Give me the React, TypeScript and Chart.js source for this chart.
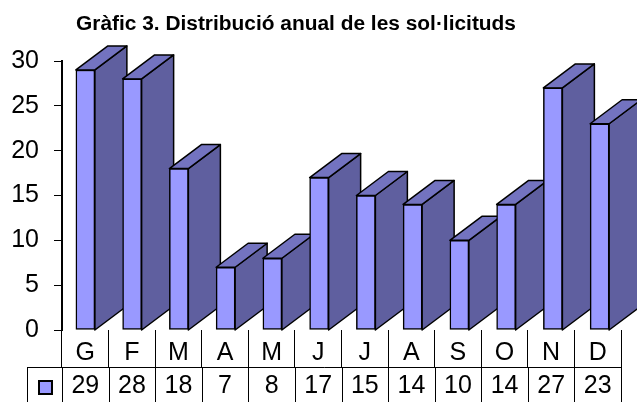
import React, { useEffect, useRef } from "react";
import { Chart, registerables } from "chart.js";

Chart.register(...registerables);

const months = ["G", "F", "M", "A", "M", "J", "J", "A", "S", "O", "N", "D"];
const requests = [29, 28, 18, 7, 8, 17, 15, 14, 10, 14, 27, 23];
const yTicks = [0, 5, 10, 15, 20, 25, 30];
const chartTitle = "Gràfic 3. Distribució anual de les sol·licituds";

const FONT = '"Liberation Sans", Arial, sans-serif';
const FRONT = "#9999FF";
const SIDE = "#5F5F9F";
const TOP = "#7373C0";
const INK = "#000000";
const DEPTH_X = 32;
const DEPTH_Y = 24;

const poly = (ctx: CanvasRenderingContext2D, pts: number[][], fill: string) => {
  ctx.beginPath();
  pts.forEach(([x, y], i) => (i ? ctx.lineTo(x, y) : ctx.moveTo(x, y)));
  ctx.closePath();
  ctx.fillStyle = fill;
  ctx.fill();
  ctx.stroke();
};

const depthPlugin = {
  id: "depth",
  beforeDatasetsDraw(chart: any) {
    const { ctx } = chart;
    const bars = chart.getDatasetMeta(0).data;
    const base = chart.scales.y.getPixelForValue(0);
    ctx.save();
    ctx.strokeStyle = INK;
    ctx.lineWidth = 1.5;
    ctx.lineJoin = "round";
    bars.forEach((bar: any) => {
      const { x, y, width } = bar.getProps(["x", "y", "width"], true);
      const l = x - width / 2;
      const r = x + width / 2;
      poly(ctx, [[r, y], [r + DEPTH_X, y - DEPTH_Y], [r + DEPTH_X, base - DEPTH_Y], [r, base]], SIDE);
      poly(ctx, [[l, y], [l + DEPTH_X, y - DEPTH_Y], [r + DEPTH_X, y - DEPTH_Y], [r, y]], TOP);
    });
    ctx.restore();
  },
};

const tablePlugin = {
  id: "table",
  afterDraw(chart: any) {
    const { ctx } = chart;
    const xs = chart.scales.x;
    const left = chart.chartArea.left;
    const right = chart.chartArea.right;
    const rowTop = 367;
    const rowBottom = 402;
    const tableLeft = 27;
    ctx.save();
    ctx.strokeStyle = INK;
    ctx.lineWidth = 1;
    ctx.beginPath();
    ctx.moveTo(tableLeft, rowTop + 0.5);
    ctx.lineTo(right + 0.5, rowTop + 0.5);
    ctx.moveTo(tableLeft + 0.5, rowTop);
    ctx.lineTo(tableLeft + 0.5, rowBottom);
    const step = (right - left) / months.length;
    for (let i = 0; i <= months.length; i++) {
      const px = Math.round(left + i * step) + 0.5;
      ctx.moveTo(px, rowTop);
      ctx.lineTo(px, rowBottom);
    }
    ctx.stroke();

    ctx.lineWidth = 2;
    ctx.fillStyle = FRONT;
    ctx.fillRect(39, 381, 13, 13);
    ctx.strokeRect(39, 381, 13, 13);

    ctx.fillStyle = INK;
    ctx.font = `25px ${FONT}`;
    ctx.textAlign = "center";
    ctx.textBaseline = "middle";
    requests.forEach((v, i) => ctx.fillText(String(v), xs.getPixelForValue(i), 386));

    ctx.font = `bold 20.9px ${FONT}`;
    ctx.textAlign = "left";
    ctx.fillText(chartTitle, 76, 24);
    ctx.restore();
  },
};

export default function App() {
  const ref = useRef<HTMLCanvasElement>(null);
  useEffect(() => {
    document.body.style.margin = "0";
    const chart = new Chart(ref.current!, {
      type: "bar",
      data: {
        labels: months,
        datasets: [
          {
            xAxisID: "bars",
            data: requests.map((v, i) => ({ x: i, y: v })),
            backgroundColor: FRONT,
            borderColor: INK,
            borderWidth: 1.5,
            borderSkipped: false,
            barThickness: 19,
          },
        ],
      },
      options: {
        responsive: false,
        animation: false,
        layout: { padding: { top: 61, right: 16, left: 0, bottom: 0 } },
        plugins: { legend: { display: false }, tooltip: { enabled: false } },
        scales: {
          bars: { axis: "x", type: "linear", display: false, offset: false, min: -0.5, max: 11.457 },
          x: {
            type: "category",
            offset: true,
            grid: {
              drawOnChartArea: false,
              drawTicks: true,
              tickLength: 37,
              color: INK,
              lineWidth: 1,
              offset: true,
            },
            border: { display: false },
            ticks: {
              color: INK,
              font: { family: FONT, size: 25 },
              padding: -29,
              maxRotation: 0,
              autoSkip: false,
            },
            afterFit(scale: any) {
              scale.height = 72;
            },
          },
          y: {
            min: 0,
            max: 30,
            afterBuildTicks(scale: any) {
              scale.ticks = yTicks.map((value) => ({ value }));
            },
            grid: { drawOnChartArea: false, tickLength: 8, color: INK, lineWidth: 1 },
            border: { display: true, color: INK, width: 2 },
            ticks: {
              color: INK,
              font: { family: FONT, size: 25 },
              padding: 15,
            },
            afterFit(scale: any) {
              scale.width = 62;
            },
          },
        },
      },
      plugins: [depthPlugin, tablePlugin],
    } as any);
    return () => chart.destroy();
  }, []);
  return <canvas ref={ref} width={637} height={402} style={{ display: "block" }} />;
}
